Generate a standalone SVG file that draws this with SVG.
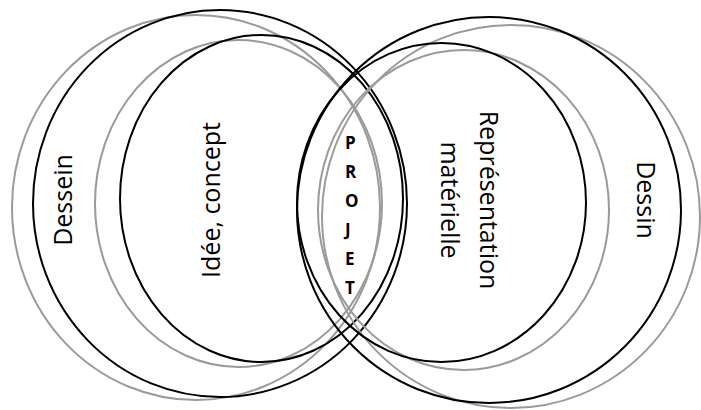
<svg xmlns="http://www.w3.org/2000/svg" width="701" height="410" viewBox="0 0 701 410">
<style>
.g{fill:none;stroke:#9a9a9a;stroke-width:2}
.b{fill:none;stroke:#000;stroke-width:2}
.t{font-family:"Open Sans","Liberation Sans",sans-serif;font-size:25px;fill:#000}
.p{font-family:"Open Sans","Liberation Sans",sans-serif;font-size:17px;font-weight:bold;fill:#000}
</style>
<rect width="701" height="410" fill="#fff"/>
<g id="dessein">
<ellipse class="g" cx="196" cy="207.5" rx="184" ry="192.5"/>
<ellipse class="b" cx="220" cy="203.5" rx="187" ry="193.5"/>
<text class="t" text-anchor="middle" transform="translate(72,200) rotate(-90)">Dessein</text>
</g>
<g id="idee">
<ellipse class="g" cx="238.5" cy="203.5" rx="143.5" ry="163.5"/>
<ellipse class="b" cx="261.5" cy="198.5" rx="141.5" ry="163.5"/>
<text class="t" text-anchor="middle" transform="translate(220,200) rotate(-90)">Idée, concept</text>
</g>
<g id="dessin">
<ellipse class="g" cx="511" cy="216.5" rx="189" ry="191.5"/>
<ellipse class="b" cx="489" cy="210" rx="192" ry="193"/>
<text class="t" text-anchor="middle" transform="translate(637,200) rotate(90)">Dessin</text>
</g>
<g id="representation">
<ellipse class="g" cx="463.5" cy="210" rx="145.5" ry="160"/>
<ellipse class="b" cx="441.5" cy="202.5" rx="144.5" ry="159.5"/>
<text class="t" text-anchor="middle" transform="translate(480,200) rotate(90)">Représentation</text>
<text class="t" text-anchor="middle" transform="translate(441,200) rotate(90)">matérielle</text>
</g>
<g id="projet">
<text class="p" x="345" y="149">P</text>
<text class="p" x="345" y="178">R</text>
<text class="p" x="345" y="207">O</text>
<text class="p" x="345" y="236">J</text>
<text class="p" x="345" y="265">E</text>
<text class="p" x="345" y="294">T</text>
</g>
<g id="connectors"></g>
</svg>
